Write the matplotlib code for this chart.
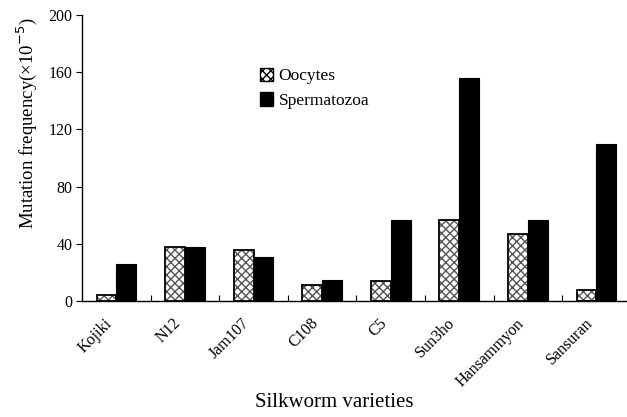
import matplotlib
matplotlib.use("Agg")
import matplotlib.pyplot as plt
import numpy as np
from matplotlib.patches import Patch
from matplotlib.transforms import ScaledTranslation

plt.rcParams['font.family'] = ['Liberation Serif', 'DejaVu Serif']
plt.rcParams['hatch.linewidth'] = 1.0

varieties = ["Kojiki", "N12", "Jam107", "C108", "C5", "Sun3ho", "Hansammyon", "Sansuran"]
oocytes = [4, 38, 36, 11, 14, 57, 47, 8]
spermatozoa = [26, 38, 31, 15, 57, 156, 57, 110]
yticks = [0, 40, 80, 120, 160, 200]

fig = plt.figure(figsize=(6.27, 4.17), dpi=100)
ax = fig.add_axes([0.131, 0.278, 0.875, 0.686])

x = np.arange(len(varieties))
w = 0.29
# oocytes: stippled fill then black outline
ax.bar(x - w/2, oocytes, w, color='white', edgecolor='#555555', hatch='xxxx', linewidth=0)
ax.bar(x - w/2, oocytes, w, fill=False, edgecolor='black', linewidth=1.3)
ax.bar(x + w/2, spermatozoa, w, color='black', edgecolor='black', linewidth=0.8)

ax.set_xlim(-0.5, len(varieties) - 0.5)
ax.set_ylim(0, 200)
ax.set_yticks(yticks)
ax.set_xticks(x)
ax.set_xticks(np.arange(len(varieties) - 1) + 0.5, minor=True)
ax.tick_params(axis='x', which='major', length=0, pad=6)
ax.tick_params(axis='x', which='minor', direction='in', length=4, width=0.8)
ax.tick_params(axis='y', direction='out', length=4, width=0.8, labelsize=11.5, pad=3)
ax.set_xticklabels(varieties, rotation=45, ha='right', rotation_mode='anchor', fontsize=11.5)
offset = ScaledTranslation(-0.12, -0.06, fig.dpi_scale_trans)
for lab in ax.get_xticklabels():
    lab.set_transform(lab.get_transform() + offset)
for s in ['top', 'right']:
    ax.spines[s].set_visible(False)
ax.spines['left'].set_linewidth(1.0)
ax.spines['bottom'].set_linewidth(1.0)

ax.set_ylabel("Mutation frequency(×10$^{-5}$)", fontsize=13.5)
ax.yaxis.set_label_coords(-0.078, 0.62)
ax.set_xlabel("Silkworm varieties", fontsize=15)
ax.xaxis.set_label_coords(0.46, -0.32)

handles = [Patch(facecolor='white', edgecolor='black', hatch='xxxx', label='Oocytes'),
           Patch(facecolor='black', edgecolor='black', label='Spermatozoa')]
ax.legend(handles=handles, loc='upper left', bbox_to_anchor=(0.295, 0.87), frameon=False,
          fontsize=12.5, handlelength=0.8, handleheight=0.8, handletextpad=0.3, labelspacing=0.45)

fig.savefig("out.png", dpi=100)
